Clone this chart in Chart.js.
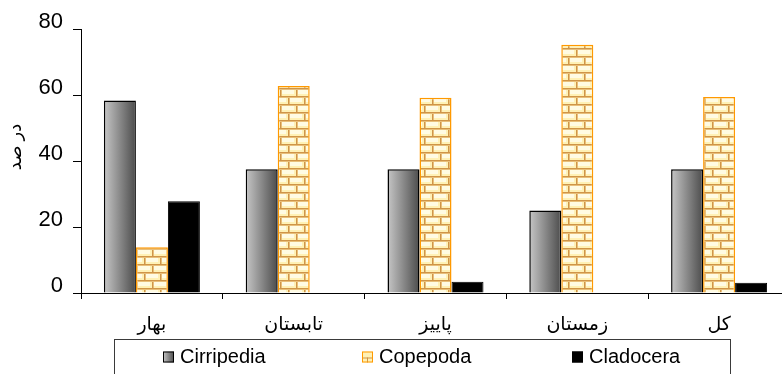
<!DOCTYPE html>
<html>
<head>
<meta charset="utf-8">
<script src="https://cdn.jsdelivr.net/npm/chart.js@4/dist/chart.umd.min.js"></script>
<style>
  html, body { margin: 0; padding: 0; background: #fff; overflow: hidden; }
  #wrap { width: 800px; height: 374px; }
</style>
</head>
<body>
<div id="wrap"><canvas id="c" width="800" height="374"></canvas></div>
<script>
// Seasonal share (%) of zooplankton groups
const categories = ['بهار', 'تابستان', 'پاییز', 'زمستان', 'کل'];
const cirripedia = [58.3, 37.5, 37.5, 25.0, 37.5];
const copepoda   = [13.9, 62.7, 59.2, 75.2, 59.4];
const cladocera  = [27.8, 0, 3.4, 0, 3.1];
const seriesNames = ['Cirripedia', 'Copepoda', 'Cladocera'];
const yTicks = [0, 20, 40, 60, 80];
const yTitle = 'در صد';

const FONT = "'Liberation Sans', 'DejaVu Sans', Arial, sans-serif";
const CAT_PCT = 0.677;

// Brick fill used for the Copepoda bars
function makeBrickPattern(ctx) {
  const t = document.createElement('canvas');
  t.width = 16; t.height = 16;
  const g = t.getContext('2d');
  g.fillStyle = '#fff1b5';
  g.fillRect(0, 0, 16, 16);
  g.fillStyle = '#fffbe3';
  g.fillRect(2, 2, 12, 4);
  g.fillRect(10, 10, 12, 4);
  g.fillRect(-6, 10, 12, 4);
  g.fillStyle = '#cf9548';
  g.fillRect(0, 0, 16, 1);
  g.fillRect(0, 8, 16, 1);
  g.fillRect(0, 0, 1, 8);
  g.fillRect(8, 8, 1, 8);
  g.fillStyle = '#e8bf7a';
  g.fillRect(0, 1, 16, 1);
  g.fillRect(0, 9, 16, 1);
  g.fillRect(1, 1, 1, 7);
  g.fillRect(9, 9, 1, 7);
  return ctx.createPattern(t, 'repeat');
}

function greyGradient(ctx, left, width) {
  const g = ctx.createLinearGradient(left, 0, left + width, 0);
  g.addColorStop(0, '#c6c6c6');
  g.addColorStop(1, '#4c4c4c');
  return g;
}

const canvas = document.getElementById('c');
const ctx0 = canvas.getContext('2d');
const brick = makeBrickPattern(ctx0);

// Horizontal grey shading computed per bar from the category scale
function cirriFill(c) {
  const chart = c.chart;
  const xs = chart.scales && chart.scales.x;
  if (!xs || c.dataIndex === undefined || !xs.width) return '#999';
  const w = xs.width / categories.length * CAT_PCT / 3;
  const left = xs.getPixelForValue(c.dataIndex) - 1.5 * w;
  return greyGradient(chart.ctx, left, w);
}

const axisTitle = {
  id: 'axisTitle',
  afterDraw(chart) {
    const ctx = chart.ctx;
    ctx.save();
    ctx.translate(16, 147);
    ctx.rotate(-Math.PI / 2);
    ctx.font = '18px ' + FONT;
    ctx.fillStyle = '#000';
    ctx.textAlign = 'center';
    ctx.textBaseline = 'middle';
    ctx.fillText(yTitle, 0, 0);
    ctx.restore();
  }
};

const legendBox = {
  id: 'legendBox',
  afterDraw(chart) {
    const ctx = chart.ctx;
    ctx.save();
    ctx.strokeStyle = '#3a3a3a';
    ctx.lineWidth = 1;
    ctx.strokeRect(114.5, 339.5, 616, 60);
    const slots = [163, 362, 572];
    const cy = 357;
    ctx.font = '20px ' + FONT;
    ctx.textBaseline = 'middle';
    ctx.textAlign = 'left';
    chart.data.datasets.forEach((ds, i) => {
      const x = slots[i];
      const y = cy - 5.5;
      if (i === 0) {
        ctx.fillStyle = greyGradient(ctx, x, 11);
        ctx.fillRect(x, y, 11, 11);
        ctx.strokeStyle = '#000';
      } else if (i === 1) {
        ctx.fillStyle = '#fff1b5';
        ctx.fillRect(x, y, 11, 11);
        ctx.fillStyle = '#cf9548';
        ctx.fillRect(x, y + 6, 11, 1);
        ctx.fillRect(x + 5, y + 6, 1, 5);
        ctx.strokeStyle = '#ff9900';
      } else {
        ctx.fillStyle = '#000';
        ctx.fillRect(x, y, 11, 11);
        ctx.strokeStyle = '#000';
      }
      ctx.lineWidth = 1;
      ctx.strokeRect(x + 0.5, y + 0.5, 10, 10);
      ctx.fillStyle = '#000';
      ctx.fillText(ds.label, x + 17, cy);
    });
    ctx.restore();
  }
};

new Chart(canvas, {
  type: 'bar',
  data: {
    labels: categories,
    datasets: [
      { label: seriesNames[0], data: cirripedia, backgroundColor: cirriFill,
        borderColor: '#000', borderWidth: 1.5 },
      { label: seriesNames[1], data: copepoda, backgroundColor: brick,
        borderColor: '#ff9900', borderWidth: 1.5 },
      { label: seriesNames[2], data: cladocera, backgroundColor: '#000',
        borderColor: '#000', borderWidth: 1 }
    ]
  },
  options: {
    responsive: false,
    animation: false,
    devicePixelRatio: 1,
    layout: { padding: { left: 0, right: 10, top: 29, bottom: 0 } },
    datasets: { bar: { categoryPercentage: CAT_PCT, barPercentage: 1 } },
    plugins: { legend: { display: false }, tooltip: { enabled: false } },
    scales: {
      x: {
        grid: { offset: true, drawOnChartArea: false, drawTicks: true, tickLength: 6, color: '#000' },
        border: { display: true, color: '#000', width: 1 },
        ticks: { font: { family: FONT, size: 19 }, color: '#000', padding: 14, maxRotation: 0 },
        afterFit(s) { s.height = 81; }
      },
      y: {
        min: 0, max: 80,
        afterBuildTicks(s) { s.ticks = yTicks.map(v => ({ value: v })); },
        grid: { drawOnChartArea: false, drawTicks: true, tickLength: 8, color: '#000' },
        border: { display: true, color: '#000', width: 1 },
        ticks: { font: { family: FONT, size: 22 }, color: '#000', padding: 10, labelOffset: -7 },
        afterFit(s) { s.width = 81; }
      }
    }
  },
  plugins: [axisTitle, legendBox]
});
</script>
</body>
</html>
